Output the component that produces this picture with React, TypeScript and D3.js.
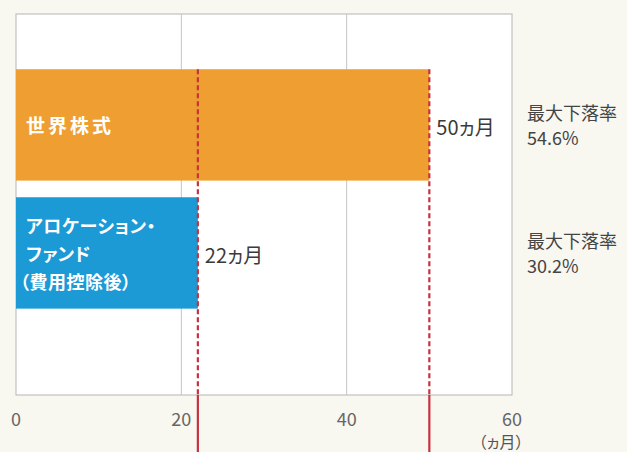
import { useEffect, useRef } from "react"
import * as d3 from "d3"

// categories and values
const categories = ["世界株式", "アロケーション・ファンド"]
const months = [50, 22]
const barLabels = [["世界株式"], ["アロケーション・", "ファンド", "（費用控除後）"]]
const valueLabels = ["50ヵ月", "22ヵ月"]
const drawdownLabels = ["54.6%", "30.2%"]
const xTicks = [0, 20, 40, 60]
const barColors = ["#ef9f31", "#1b9ad6"]

const W = 627
const H = 452
const FONT = "'Noto Sans CJK JP', sans-serif"

const App = () => {
  const svgRef = useRef<SVGSVGElement | null>(null)

  useEffect(() => {
    if (!svgRef.current) return
    const svg = d3.select(svgRef.current)
    svg.selectAll("*").remove()

    const left = 16
    const right = 512
    const top = 14
    const bottom = 395

    const x = d3.scaleLinear().domain([0, 60]).range([left, right])
    const y = d3
      .scaleBand<string>()
      .domain(categories)
      .range([top, bottom])
      .paddingInner(0.13)
      .paddingOuter(0.553)
      .align(0.39)

    svg.append("rect").attr("width", W).attr("height", H).attr("fill", "#f8f7f0")

    // plot area
    svg
      .append("rect")
      .attr("x", left)
      .attr("y", top)
      .attr("width", right - left)
      .attr("height", bottom - top)
      .attr("fill", "#fff")
      .attr("stroke", "#b5b5b5")
      .attr("stroke-width", 1)

    // gridlines
    svg
      .selectAll(".grid")
      .data(xTicks.slice(1, -1))
      .join("line")
      .attr("x1", (d) => x(d))
      .attr("x2", (d) => x(d))
      .attr("y1", top)
      .attr("y2", bottom)
      .attr("stroke", "#c4c4c4")
      .attr("stroke-width", 1)

    // bars
    svg
      .selectAll(".bar")
      .data(categories)
      .join("rect")
      .attr("x", x(0))
      .attr("y", (d) => y(d)!)
      .attr("width", (d, i) => x(months[i]) - x(0))
      .attr("height", y.bandwidth())
      .attr("fill", (d, i) => barColors[i])

    const txt = (tx: number, ty: number, s: string, size: number, fill: string) =>
      svg
        .append("text")
        .attr("x", tx)
        .attr("y", ty)
        .attr("dominant-baseline", "central")
        .attr("fill", fill)
        .attr("font-size", size)
        .attr("font-family", FONT)
        .style("font-feature-settings", "'palt'")
        .text(s)

    // bar labels
    categories.forEach((c, i) => {
      const lines = barLabels[i]
      const mid = y(c)! + y.bandwidth() / 2
      const lh = 28
      lines.forEach((t, j) => {
        const el = txt(
          t.startsWith("（") ? 20 : 26,
          mid + (j - (lines.length - 1) / 2) * lh,
          t,
          lines.length === 1 ? 19 : 18,
          "#fff",
        ).attr("font-weight", "bold")
        if (lines.length === 1) el.attr("letter-spacing", 3)
        else el.attr("letter-spacing", 0.5)
      })
    })

    // red marker lines
    months.forEach((m, i) => {
      svg
        .append("line")
        .attr("x1", x(m))
        .attr("x2", x(m))
        .attr("y1", y(categories[0])!)
        .attr("y2", bottom)
        .attr("stroke", "#c8323f")
        .attr("stroke-width", 2.2)
        .attr("stroke-dasharray", "5,3")
      svg
        .append("line")
        .attr("x1", x(m))
        .attr("x2", x(m))
        .attr("y1", bottom)
        .attr("y2", H)
        .attr("stroke", "#c8323f")
        .attr("stroke-width", 2.2)

      const mid = y(categories[i])! + y.bandwidth() / 2
      txt(x(m) + 7, mid + 2, valueLabels[i], 20, "#3a3a3a")
      txt(527, mid - 13, "最大下落率", 18, "#444")
      txt(527, mid + 12, drawdownLabels[i], 18, "#444")
    })

    // axis tick labels
    svg
      .selectAll(".tick-label")
      .data(xTicks)
      .join("text")
      .attr("x", (d) => x(d))
      .attr("y", 418)
      .attr("text-anchor", "middle")
      .attr("dominant-baseline", "central")
      .attr("fill", "#666")
      .attr("font-size", 18)
      .attr("font-family", FONT)
      .text((d) => d)

    txt(x(60) - 11, 441, "（ヵ月）", 16, "#555").attr("text-anchor", "middle")
  }, [])

  return (
    <div style={{ position: "fixed", left: 0, top: 0 }}>
      <svg ref={svgRef} width={W} height={H} style={{ display: "block" }} />
    </div>
  )
}

export default App
